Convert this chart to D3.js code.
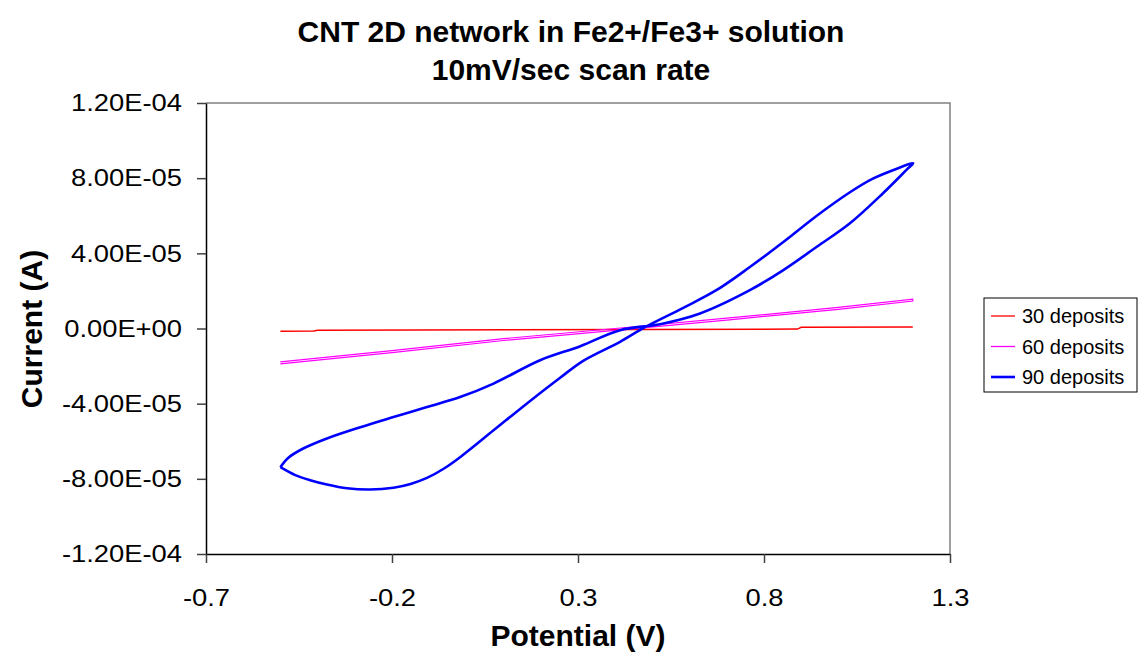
<!DOCTYPE html>
<html>
<head>
<meta charset="utf-8">
<script src="https://cdn.jsdelivr.net/npm/d3@7"></script>
<style>
body { margin: 0; background: #fff; }
text { font-family: "Liberation Sans", Arial, sans-serif; fill: #000; }
</style>
</head>
<body>
<svg class="chart"></svg>
<script>
// values: potential (V) and current (A)
var names = ["30 deposits", "60 deposits", "90 deposits"];
var colors = ["#ff0000", "#ff00ff", "#0000ff"];

var pot30 = [-0.5, -0.41, -0.40, 0.89, 0.90, 1.2];
var cur30 = [-1.5e-6, -1.3e-6, -0.9e-6, -0.3e-6, 0.6e-6, 0.8e-6];

var pot60 = [-0.5, -0.2, 0.1, 0.4, 0.7, 1.0, 1.2, 1.2, 1.0, 0.7, 0.4, 0.1, -0.2, -0.5];
var cur60 = [-1.88e-5, -1.28e-5, -0.64e-5, -0.10e-5, 0.45e-5, 1.02e-5, 1.46e-5,
             1.56e-5, 1.12e-5, 0.55e-5, 0.00e-5, -0.54e-5, -1.18e-5, -1.78e-5];

var pot90 = [-0.500, -0.460, -0.420, -0.375, -0.321, -0.259, -0.196, -0.150, -0.106, -0.060,
             -0.017, 0.073, 0.162, 0.252, 0.314, 0.413, 0.480, 0.583, 0.673, 0.762,
             0.852, 0.942, 1.031, 1.090, 1.150, 1.201,
             1.183, 1.120, 1.031, 0.942, 0.852, 0.762, 0.628, 0.521, 0.413, 0.306,
             0.198, 0.073, -0.017, -0.106, -0.196, -0.285, -0.375,
             -0.440, -0.480, -0.500];
var cur90 = [-7.38e-5, -7.80e-5, -8.07e-5, -8.30e-5, -8.50e-5, -8.57e-5, -8.47e-5, -8.27e-5, -7.95e-5, -7.45e-5,
             -6.85e-5, -5.42e-5, -4.00e-5, -2.62e-5, -1.72e-5, -0.71e-5, 0.07e-5, 1.10e-5, 2.05e-5, 3.27e-5,
             4.60e-5, 6.00e-5, 7.25e-5, 7.95e-5, 8.45e-5, 8.80e-5,
             8.44e-5, 7.20e-5, 5.60e-5, 4.35e-5, 3.11e-5, 2.04e-5, 0.80e-5, 0.23e-5, -0.09e-5, -0.94e-5,
             -1.69e-5, -2.93e-5, -3.65e-5, -4.18e-5, -4.71e-5, -5.25e-5, -5.85e-5,
             -6.40e-5, -6.90e-5, -7.38e-5];

var xTicks = [-0.7, -0.2, 0.3, 0.8, 1.3];
var yTicks = [-1.2e-4, -8e-5, -4e-5, 0, 4e-5, 8e-5, 1.2e-4];
var yTickLabels = ["-1.20E-04", "-8.00E-05", "-4.00E-05", "0.00E+00", "4.00E-05", "8.00E-05", "1.20E-04"];

var width = 1138;
var height = 660;
var stretch = 1.14;
var svg = d3.select(".chart").attr("width", width).attr("height", height);

var x = d3.scaleLinear().domain([-0.7, 1.3]).range([206, 950]);
var y = d3.scaleLinear().domain([-1.2e-4, 1.2e-4]).range([554, 103]);

// plot frame (top and right)
svg.append("path")
  .attr("d", "M206,103H950V554")
  .attr("fill", "none")
  .attr("stroke", "#808080")
  .attr("stroke-width", 1.5);

var yAxis = svg.append("g")
  .attr("transform", "translate(206,0)")
  .call(d3.axisLeft(y).tickValues(yTicks).tickSize(9).tickSizeOuter(0)
    .tickFormat(function(d, i) { return yTickLabels[i]; }));
yAxis.selectAll("text")
  .attr("x", -24 / stretch)
  .attr("transform", "scale(" + stretch + ",1)")
  .style("font-size", "24px");

var xAxis = svg.append("g")
  .attr("transform", "translate(0,554)")
  .call(d3.axisBottom(x).tickValues(xTicks).tickSize(9).tickSizeOuter(0)
    .tickFormat(function(d) { return String(d); }));
xAxis.selectAll("text")
  .attr("y", 52)
  .attr("dy", 0)
  .attr("transform", "scale(" + stretch + ",1)")
  .style("font-size", "24px");

svg.selectAll(".domain").attr("stroke", "#000").attr("stroke-width", 1.5);
svg.selectAll(".tick line").attr("stroke", "#404040").attr("stroke-width", 1.5);

var line = d3.line()
  .x(function(d) { return x(d[0]); })
  .y(function(d) { return y(d[1]); });

function pairs(px, cy) {
  return px.map(function(p, i) { return [p, cy[i]]; });
}

svg.append("path").datum(pairs(pot30, cur30))
  .attr("d", line).attr("fill", "none").attr("stroke", colors[0]).attr("stroke-width", 1.5);
svg.append("path").datum(pairs(pot60, cur60))
  .attr("d", line).attr("fill", "none").attr("stroke", colors[1]).attr("stroke-width", 1.2);
svg.append("path").datum(pairs(pot90, cur90))
  .attr("d", line.curve(d3.curveCatmullRom)).attr("fill", "none").attr("stroke", colors[2]).attr("stroke-width", 2.6);

// titles
function boldText(tx, ty, size, str, rotate) {
  svg.append("text")
    .attr("transform", "translate(" + tx + "," + ty + ")" + (rotate ? " rotate(-90)" : ""))
    .attr("text-anchor", "middle")
    .style("font-size", size + "px")
    .style("font-weight", "bold")
    .text(str);
}
boldText(571, 42, 30, "CNT 2D network in Fe2+/Fe3+ solution");
boldText(571, 80, 30, "10mV/sec scan rate");
boldText(578, 646, 30, "Potential (V)");
boldText(42, 329, 30, "Current (A)", true);

// legend
var legend = svg.append("g");
legend.append("rect")
  .attr("x", 984).attr("y", 298).attr("width", 153).attr("height", 94)
  .attr("fill", "#fff").attr("stroke", "#000").attr("stroke-width", 1);
names.forEach(function(n, i) {
  var ly = 316 + i * 30.5;
  legend.append("line")
    .attr("x1", 991).attr("x2", 1015).attr("y1", ly).attr("y2", ly)
    .attr("stroke", colors[i]).attr("stroke-width", i == 2 ? 2.6 : 1.3);
  legend.append("text")
    .attr("x", 1022).attr("y", ly + 7)
    .style("font-size", "20px")
    .text(n);
});
</script>
</body>
</html>
